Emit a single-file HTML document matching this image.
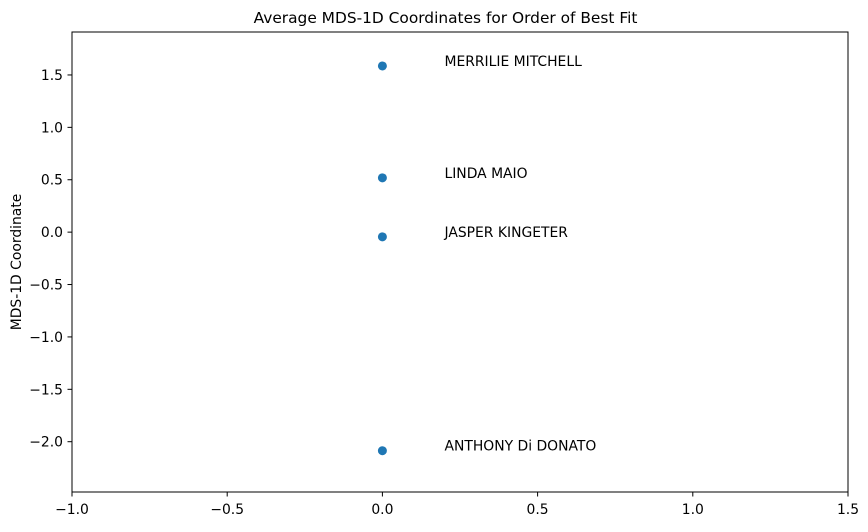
<!DOCTYPE html>
<html><head><meta charset="utf-8"><style>
body{margin:0;background:#fff;font-family:"DejaVu Sans","Liberation Sans",sans-serif;}
</style></head><body>
<svg id="chart" width="868" height="528" xmlns="http://www.w3.org/2000/svg" font-family="DejaVu Sans, Liberation Sans, sans-serif">
<text x="445.5" y="23" text-anchor="middle" font-size="15.4" fill="#000">Average MDS-1D Coordinates for Order of Best Fit</text>
<text transform="translate(21,262) rotate(-90)" text-anchor="middle" font-size="13.9" fill="#000">MDS-1D Coordinate</text>
<g id="marks"></g>
<rect x="72" y="32" width="776" height="460" fill="none" stroke="#000" stroke-width="1"/>
</svg>
<script>
const names = ["MERRILIE MITCHELL","LINDA MAIO","JASPER KINGETER","ANTHONY Di DONATO"];
const xValues = [0,0,0,0];
const yValues = [1.586,0.518,-0.045,-2.086];
const xTicks = [-1.0,-0.5,0.0,0.5,1.0,1.5];
const xTickLabels = ["\u22121.0","\u22120.5","0.0","0.5","1.0","1.5"];
const yTicks = [1.5,1.0,0.5,0.0,-0.5,-1.0,-1.5,-2.0];
const yTickLabels = ["1.5","1.0","0.5","0.0","\u22120.5","\u22121.0","\u22121.5","\u22122.0"];
const labelOffset = 0.2;

const L=72,R=848,T=32,B=492;
const xMin=-1,xMax=1.5,yMin=-2.48,yMax=1.91;
const sx=v=>L+(v-xMin)/(xMax-xMin)*(R-L);
const sy=v=>B-(v-yMin)/(yMax-yMin)*(B-T);
const NS="http://www.w3.org/2000/svg";
const g=document.getElementById('marks');
function mk(tag,attrs){const e=document.createElementNS(NS,tag);for(const k in attrs)e.setAttribute(k,attrs[k]);g.appendChild(e);return e;}
xTicks.forEach((t,i)=>{
  const x=sx(t);
  const l=mk('line',{x1:x,x2:x,y1:B,y2:B+4.5,stroke:'#000'});
  
  
  const tx=mk('text',{x:x,y:B+22,'text-anchor':'middle','font-size':'13.9'});
  tx.textContent=xTickLabels[i];
  
  
});
yTicks.forEach((t,i)=>{
  const y=sy(t);
  const l=mk('line',{x1:L-4.5,x2:L,y1:y,y2:y,stroke:'#000'});
  
  
  const tx=mk('text',{x:L-9,y:y+5,'text-anchor':'end','font-size':'13.9'});
  tx.textContent=yTickLabels[i];
  
  
});
names.forEach((n,i)=>{
  const c=mk('circle',{cx:sx(xValues[i]),cy:sy(yValues[i]),r:4.5,fill:'#1f77b4'});
  
  
  const tx=mk('text',{x:sx(xValues[i]+labelOffset),y:sy(yValues[i]),'font-size':'13.9'});
  tx.textContent=n;
  
  
});
</script>
</body></html>
